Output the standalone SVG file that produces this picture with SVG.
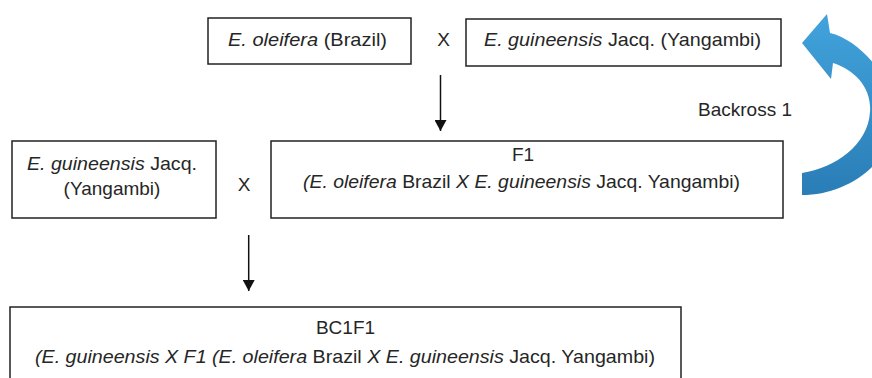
<svg xmlns="http://www.w3.org/2000/svg" width="872" height="378" viewBox="0 0 872 378">
<style>
  .box { fill: #ffffff; stroke: #222222; stroke-width: 1.5; }
  .t { font-family: "Liberation Sans", Arial, sans-serif; font-size: 19px; fill: #262626; }
  .m { text-anchor: middle; }
  .i { font-style: italic; }
  .conn { stroke: #111111; stroke-width: 1.5; fill: none; marker-end: url(#ah); }
</style>
<defs>
  <marker id="ah" viewBox="0 0 11 12" refX="11" refY="6" markerWidth="11" markerHeight="12" markerUnits="userSpaceOnUse" orient="auto">
    <path d="M0,0 L11,6 L0,12 z" fill="#111111"/>
  </marker>
  <linearGradient id="blue" x1="0" y1="0" x2="0" y2="1">
    <stop offset="0" stop-color="#42a3dc"/>
    <stop offset="1" stop-color="#2a7db6"/>
  </linearGradient>
</defs>
<rect width="872" height="378" fill="#ffffff"/>

<g id="n-oleifera">
  <rect class="box" x="208" y="18" width="203" height="46"/>
  <text class="t" x="228" y="46" textLength="159" lengthAdjust="spacingAndGlyphs"><tspan class="i">E. oleifera</tspan> (Brazil)</text>
</g>
<g id="n-x1">
  <text class="t m" x="443.5" y="46">X</text>
</g>
<g id="n-guineensis-top">
  <rect class="box" x="466" y="19" width="315" height="47"/>
  <text class="t" x="484" y="46" textLength="277" lengthAdjust="spacingAndGlyphs"><tspan class="i">E. guineensis</tspan> Jacq. (Yangambi)</text>
</g>
<g id="n-guineensis-left">
  <rect class="box" x="12" y="141" width="204" height="77"/>
  <text class="t" x="27" y="170" textLength="170" lengthAdjust="spacingAndGlyphs"><tspan class="i">E. guineensis</tspan> Jacq.</text>
  <text class="t m" x="112" y="195">(Yangambi)</text>
</g>
<g id="n-x2">
  <text class="t m" x="244" y="191">X</text>
</g>
<g id="n-f1">
  <rect class="box" x="271" y="141" width="512" height="77"/>
  <text class="t m" x="523" y="161">F1</text>
  <text class="t" x="303" y="188" textLength="437" lengthAdjust="spacingAndGlyphs"><tspan class="i">(E. oleifera</tspan> Brazil <tspan class="i">X E. guineensis</tspan> Jacq. Yangambi)</text>
</g>
<g id="n-bc1f1">
  <rect class="box" x="10" y="307" width="671" height="100"/>
  <text class="t m" x="345.5" y="334">BC1F1</text>
  <text class="t" x="35" y="363" textLength="620" lengthAdjust="spacingAndGlyphs"><tspan class="i">(E. guineensis X F1 (E. oleifera</tspan> Brazil <tspan class="i">X E. guineensis</tspan> Jacq. Yangambi)</text>
</g>

<g id="connectors">
  <line class="conn" x1="440.5" y1="75" x2="440.5" y2="131"/>
  <line class="conn" x1="248.7" y1="235" x2="248.7" y2="291"/>
  <path id="backcross-arrow" fill="url(#blue)" d="M802,43 L827,14 L830,33 C860,40 895,80 895,115 C895,160 850,195 802,195 L802,173 C835,168 868,145 870,112 C872,88 855,70 833,63 L831,79 Z"/>
  <text class="t m" x="745" y="116">Backross 1</text>
</g>
</svg>
